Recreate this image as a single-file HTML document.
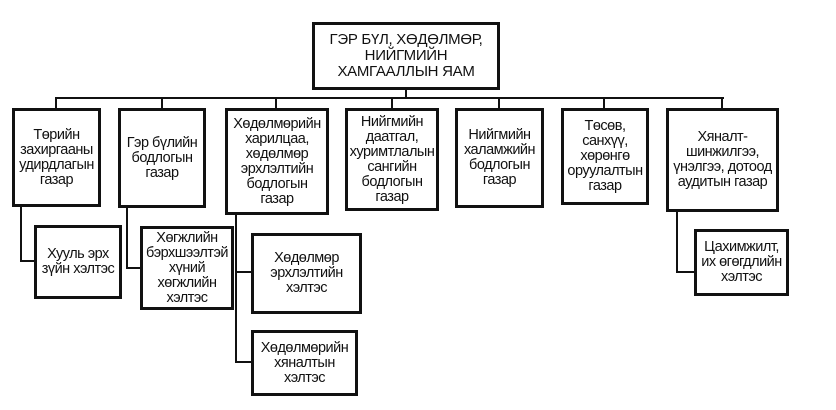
<!DOCTYPE html>
<html><head><meta charset="utf-8"><style>
body{margin:0;width:836px;height:410px;background:#fff;position:relative;overflow:hidden;font-family:"Liberation Sans",Arial,sans-serif;}
.b{position:absolute;box-sizing:border-box;border:3px solid #111;display:flex;align-items:center;justify-content:center;text-align:center;font-size:14.5px;line-height:15px;color:#111;background:#fff;white-space:nowrap;letter-spacing:-0.5px;}
.h{position:absolute;background:#111;height:2px;}
.v{position:absolute;background:#111;width:2px;}
</style></head><body>
<div class="b" style="left:312px;top:22px;width:188px;height:68px;font-size:15px;line-height:16px;letter-spacing:-0.3px;">ГЭР БҮЛ, ХӨДӨЛМӨР,<br>НИЙГМИЙН<br>ХАМГААЛЛЫН ЯАМ</div>
<div class="v" style="left:405px;top:90px;height:9px"></div>
<div class="h" style="left:55px;top:97px;width:669px"></div>
<div class="v" style="left:55px;top:97px;height:12px"></div>
<div class="v" style="left:161px;top:97px;height:12px"></div>
<div class="v" style="left:275px;top:97px;height:12px"></div>
<div class="v" style="left:391px;top:97px;height:12px"></div>
<div class="v" style="left:498px;top:97px;height:12px"></div>
<div class="v" style="left:603px;top:97px;height:12px"></div>
<div class="v" style="left:721px;top:97px;height:12px"></div>

<div class="b" style="left:12px;top:108px;width:89px;height:99px;">Төрийн<br>захиргааны<br>удирдлагын<br>газар</div>
<div class="b" style="left:118px;top:108px;width:88px;height:100px;">Гэр бүлийн<br>бодлогын<br>газар</div>
<div class="b" style="left:225px;top:108px;width:104px;height:107px;">Хөдөлмөрийн<br>харилцаа,<br>хөдөлмөр<br>эрхлэлтийн<br>бодлогын<br>газар</div>
<div class="b" style="left:345px;top:108px;width:94px;height:103px;">Нийгмийн<br>даатгал,<br>хуримтлалын<br>сангийн<br>бодлогын<br>газар</div>
<div class="b" style="left:455px;top:108px;width:89px;height:100px;">Нийгмийн<br>халамжийн<br>бодлогын<br>газар</div>
<div class="b" style="left:561px;top:108px;width:88px;height:97px;">Төсөв,<br>санхүү,<br>хөрөнгө<br>оруулалтын<br>газар</div>
<div class="b" style="left:666px;top:108px;width:113px;height:104px;">Хяналт-<br>шинжилгээ,<br>үнэлгээ, дотоод<br>аудитын газар</div>

<div class="v" style="left:20px;top:206px;height:56px"></div>
<div class="h" style="left:20px;top:260px;width:15px"></div>
<div class="b" style="left:34px;top:225px;width:88px;height:74px;">Хууль эрх<br>зүйн хэлтэс</div>

<div class="v" style="left:126px;top:207px;height:62px"></div>
<div class="h" style="left:126px;top:267px;width:15px"></div>
<div class="b" style="left:140px;top:226px;width:94px;height:84px;">Хөгжлийн<br>бэрхшээлтэй<br>хүний<br>хөгжлийн<br>хэлтэс</div>

<div class="v" style="left:235px;top:214px;height:149px"></div>
<div class="h" style="left:235px;top:271px;width:17px"></div>
<div class="h" style="left:235px;top:361px;width:17px"></div>
<div class="b" style="left:251px;top:233px;width:111px;height:81px;">Хөдөлмөр<br>эрхлэлтийн<br>хэлтэс</div>
<div class="b" style="left:251px;top:330px;width:107px;height:66px;">Хөдөлмөрийн<br>хяналтын<br>хэлтэс</div>

<div class="v" style="left:676px;top:211px;height:62px"></div>
<div class="h" style="left:676px;top:271px;width:19px"></div>
<div class="b" style="left:694px;top:229px;width:95px;height:67px;">Цахимжилт,<br>их өгөгдлийн<br>хэлтэс</div>
</body></html>
